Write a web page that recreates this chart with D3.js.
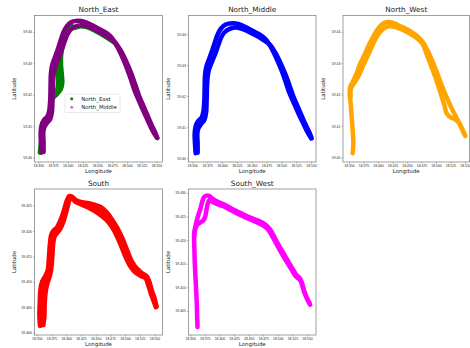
<!DOCTYPE html>
<html>
<head>
<meta charset="utf-8">
<script src="https://cdn.jsdelivr.net/npm/d3@7"></script>
<style>
  body { margin: 0; background: #fff; }
  svg { font-family: "DejaVu Sans", sans-serif; }
</style>
</head>
<body>
<div id="chart"></div>
<script>
// route tracks, [longitude, latitude]
const northEastLoop = [
  [18.3529, 59.4016], [18.3546, 59.4035], [18.3568, 59.4077], [18.3585, 59.4107],
  [18.3631, 59.4120], [18.3676, 59.4130], [18.3698, 59.4146], [18.3715, 59.4173],
  [18.3744, 59.4189], [18.3812, 59.4201], [18.3880, 59.4217], [18.3907, 59.4238],
  [18.3897, 59.4268], [18.3885, 59.4295], [18.3885, 59.4321], [18.3907, 59.4353],
  [18.3947, 59.4385], [18.3998, 59.4408], [18.4119, 59.4413], [18.4220, 59.4418],
  [18.4321, 59.4415], [18.4445, 59.4405], [18.4568, 59.4392], [18.4680, 59.4379],
  [18.4801, 59.4363], [18.4899, 59.4336], [18.4984, 59.4304], [18.5068, 59.4267],
  [18.5141, 59.4229], [18.5209, 59.4192], [18.5282, 59.4160], [18.5350, 59.4130],
  [18.5420, 59.4100], [18.5480, 59.4076], [18.5520, 59.4062]
];
const northEastFill = [
  [18.3715, 59.4173], [18.3744, 59.4189], [18.3790, 59.4203], [18.3826, 59.4220],
  [18.3836, 59.4240], [18.3830, 59.4268], [18.3830, 59.4296], [18.3845, 59.4325],
  [18.3885, 59.4358], [18.3940, 59.4390], [18.3998, 59.4408]
];
const northEastMain = [
  [18.3529, 59.4016], [18.3568, 59.4077], [18.3631, 59.4120], [18.3698, 59.4146],
  [18.3727, 59.4205], [18.3737, 59.4247], [18.3754, 59.4279], [18.3800, 59.4305],
  [18.3846, 59.4332], [18.3890, 59.4358], [18.3936, 59.4385], [18.3998, 59.4408],
  [18.4066, 59.4420]
];
const northMiddleOuter = [
  [18.3557, 59.4016], [18.3545, 59.4048], [18.3540, 59.4080], [18.3557, 59.4104],
  [18.3590, 59.4118], [18.3658, 59.4132], [18.3686, 59.4150], [18.3703, 59.4188],
  [18.3708, 59.4231], [18.3714, 59.4268], [18.3736, 59.4295], [18.3787, 59.4322],
  [18.3838, 59.4349], [18.3882, 59.4375], [18.3927, 59.4399], [18.3984, 59.4418],
  [18.4062, 59.4431], [18.4175, 59.4435], [18.4287, 59.4432], [18.4416, 59.4421],
  [18.4545, 59.4408], [18.4658, 59.4396], [18.4748, 59.4381], [18.4826, 59.4357],
  [18.4905, 59.4327], [18.4989, 59.4290], [18.5062, 59.4252], [18.5129, 59.4214],
  [18.5202, 59.4182], [18.5275, 59.4150], [18.5354, 59.4118], [18.5427, 59.4089],
  [18.5500, 59.4065]
];
const northMiddleInner = [
  [18.3590, 59.4018], [18.3590, 59.4048], [18.3585, 59.4080], [18.3602, 59.4096],
  [18.3647, 59.4110], [18.3703, 59.4123], [18.3731, 59.4145], [18.3742, 59.4188],
  [18.3748, 59.4231], [18.3759, 59.4263], [18.3781, 59.4286], [18.3838, 59.4314],
  [18.3894, 59.4340], [18.3939, 59.4365], [18.3984, 59.4388], [18.4040, 59.4405],
  [18.4119, 59.4416], [18.4220, 59.4421], [18.4321, 59.4418], [18.4445, 59.4408],
  [18.4568, 59.4396], [18.4680, 59.4383], [18.4801, 59.4367], [18.4899, 59.4340],
  [18.4984, 59.4308], [18.5068, 59.4271], [18.5141, 59.4233], [18.5209, 59.4196],
  [18.5282, 59.4164], [18.5350, 59.4134], [18.5420, 59.4104], [18.5480, 59.4080],
  [18.5512, 59.4064]
];
const northWestUpper = [
  [18.3563, 59.4013], [18.3575, 59.4044], [18.3563, 59.4087], [18.3546, 59.4129],
  [18.3529, 59.4172], [18.3511, 59.4204], [18.3523, 59.4225], [18.3557, 59.4238],
  [18.3603, 59.4255], [18.3649, 59.4276], [18.3690, 59.4297], [18.3747, 59.4318],
  [18.3805, 59.4342], [18.3862, 59.4365], [18.3931, 59.4389], [18.4006, 59.4411],
  [18.4080, 59.4425], [18.4161, 59.4431], [18.4253, 59.4429], [18.4351, 59.4421],
  [18.4466, 59.4411], [18.4580, 59.4399], [18.4678, 59.4386], [18.4770, 59.4368],
  [18.4851, 59.4342], [18.4931, 59.4310], [18.5011, 59.4273], [18.5086, 59.4236],
  [18.5155, 59.4204], [18.5230, 59.4172], [18.5299, 59.4145], [18.5368, 59.4121],
  [18.5425, 59.4100], [18.5471, 59.4082], [18.5506, 59.4068]
];
const northWestLower = [
  [18.3529, 59.4193], [18.3534, 59.4220], [18.3586, 59.4236], [18.3644, 59.4252],
  [18.3701, 59.4273], [18.3747, 59.4294], [18.3816, 59.4321], [18.3874, 59.4344],
  [18.3948, 59.4374], [18.4023, 59.4397], [18.4103, 59.4412], [18.4184, 59.4418],
  [18.4276, 59.4416], [18.4379, 59.4410], [18.4494, 59.4400], [18.4598, 59.4389],
  [18.4690, 59.4377], [18.4770, 59.4361], [18.4831, 59.4333], [18.4897, 59.4301],
  [18.4966, 59.4267], [18.5035, 59.4230], [18.5090, 59.4198], [18.5144, 59.4167],
  [18.5184, 59.4140], [18.5253, 59.4127], [18.5328, 59.4121], [18.5397, 59.4110],
  [18.5448, 59.4092], [18.5489, 59.4074]
];
const southUpper = [
  [18.3556, 59.4013], [18.3545, 59.4032], [18.3551, 59.4058], [18.3562, 59.4084],
  [18.3590, 59.4100], [18.3647, 59.4112], [18.3687, 59.4123], [18.3704, 59.4143],
  [18.3716, 59.4163], [18.3727, 59.4179], [18.3744, 59.4192], [18.3784, 59.4201],
  [18.3841, 59.4207], [18.3886, 59.4217], [18.3932, 59.4230], [18.3972, 59.4245],
  [18.4011, 59.4260], [18.4051, 59.4269], [18.4097, 59.4268], [18.4171, 59.4261],
  [18.4267, 59.4257], [18.4381, 59.4255], [18.4483, 59.4252], [18.4580, 59.4248],
  [18.4682, 59.4238], [18.4785, 59.4222], [18.4876, 59.4205], [18.4955, 59.4186],
  [18.5035, 59.4163], [18.5109, 59.4142], [18.5194, 59.4127], [18.5291, 59.4117],
  [18.5376, 59.4110], [18.5422, 59.4097], [18.5461, 59.4081], [18.5501, 59.4068],
  [18.5536, 59.4051]
];
const southMiddle = [
  [18.3585, 59.4014], [18.3588, 59.4032], [18.3593, 59.4058], [18.3607, 59.4083],
  [18.3635, 59.4099], [18.3681, 59.4111], [18.3715, 59.4123], [18.3732, 59.4143],
  [18.3744, 59.4163], [18.3755, 59.4179], [18.3775, 59.4191], [18.3818, 59.4199],
  [18.3869, 59.4206], [18.3914, 59.4216], [18.3957, 59.4230], [18.3997, 59.4246],
  [18.4034, 59.4261], [18.4074, 59.4267], [18.4097, 59.4266], [18.4162, 59.4260],
  [18.4258, 59.4255], [18.4372, 59.4251], [18.4480, 59.4246], [18.4580, 59.4240],
  [18.4682, 59.4230], [18.4779, 59.4216], [18.4865, 59.4199], [18.4944, 59.4179],
  [18.5024, 59.4156], [18.5100, 59.4136], [18.5185, 59.4123], [18.5276, 59.4115],
  [18.5362, 59.4109], [18.5408, 59.4096], [18.5447, 59.4080], [18.5490, 59.4066],
  [18.5530, 59.4051]
];
const southLower = [
  [18.3613, 59.4015], [18.3630, 59.4032], [18.3636, 59.4058], [18.3653, 59.4081],
  [18.3681, 59.4097], [18.3716, 59.4109], [18.3744, 59.4123], [18.3761, 59.4143],
  [18.3772, 59.4163], [18.3784, 59.4179], [18.3807, 59.4190], [18.3852, 59.4197],
  [18.3898, 59.4204], [18.3943, 59.4215], [18.3983, 59.4230], [18.4023, 59.4247],
  [18.4057, 59.4261], [18.4097, 59.4265], [18.4154, 59.4258], [18.4250, 59.4253],
  [18.4364, 59.4247], [18.4478, 59.4240], [18.4580, 59.4232], [18.4682, 59.4222],
  [18.4773, 59.4209], [18.4853, 59.4192], [18.4933, 59.4171], [18.5012, 59.4148],
  [18.5092, 59.4130], [18.5177, 59.4118], [18.5262, 59.4112], [18.5348, 59.4107],
  [18.5393, 59.4094], [18.5433, 59.4079], [18.5479, 59.4064], [18.5524, 59.4050]
];
const southWestMain = [
  [18.3625, 59.4016], [18.3619, 59.4037], [18.3613, 59.4066], [18.3602, 59.4094],
  [18.3590, 59.4122], [18.3579, 59.4150], [18.3573, 59.4175], [18.3568, 59.4196],
  [18.3568, 59.4214], [18.3585, 59.4227], [18.3630, 59.4249], [18.3676, 59.4267],
  [18.3716, 59.4285], [18.3744, 59.4292], [18.3784, 59.4294], [18.3829, 59.4293],
  [18.3886, 59.4287], [18.3972, 59.4281], [18.4085, 59.4275], [18.4228, 59.4265],
  [18.4381, 59.4256], [18.4540, 59.4247], [18.4683, 59.4240], [18.4796, 59.4232],
  [18.4870, 59.4222], [18.4927, 59.4210], [18.4984, 59.4196], [18.5064, 59.4179],
  [18.5149, 59.4161], [18.5234, 59.4143], [18.5314, 59.4127], [18.5377, 59.4119],
  [18.5417, 59.4108], [18.5451, 59.4092], [18.5496, 59.4078], [18.5542, 59.4067]
];
const southWestLoop = [
  [18.3568, 59.4207], [18.3585, 59.4222], [18.3619, 59.4232], [18.3670, 59.4237],
  [18.3721, 59.4241], [18.3755, 59.4249], [18.3778, 59.4263], [18.3800, 59.4277],
  [18.3829, 59.4285], [18.3869, 59.4282], [18.3943, 59.4277], [18.4057, 59.4272],
  [18.4199, 59.4263], [18.4358, 59.4253], [18.4518, 59.4244], [18.4665, 59.4236],
  [18.4779, 59.4228], [18.4853, 59.4219], [18.4910, 59.4207], [18.4972, 59.4193],
  [18.5052, 59.4175], [18.5137, 59.4157], [18.5222, 59.4140], [18.5308, 59.4123],
  [18.5382, 59.4115], [18.5422, 59.4102], [18.5462, 59.4087], [18.5507, 59.4074],
  [18.5553, 59.4063]
];

const xTicks = [18.350, 18.375, 18.400, 18.425, 18.450, 18.475, 18.500, 18.525, 18.550];
const yTicksNorth = [59.40, 59.41, 59.42, 59.43, 59.44];
const yTicksSouth = [59.400, 59.405, 59.410, 59.415, 59.420, 59.425];
const yTicksSouthWest = [59.405, 59.410, 59.415, 59.420, 59.425, 59.430];

const width = 470, height = 348;
const colLeft = [34.5, 188.5, 343];
const colRight = [162.5, 316, 469.5];
const rowTop = [15.5, 189];
const rowBottom = [162, 335];

const panels = [
  { title: 'North_East', col: 0, row: 0,
    xDomain: [18.3436, 18.5604], yDomain: [59.3986, 59.4452], yTicks: yTicksNorth, yFmt: '.2f',
    series: [
      { name: 'North_East', color: '#008000', tracks: [northEastMain, northEastFill, northEastLoop] },
      { name: 'North_Middle', color: '#800080', tracks: [northMiddleOuter, northMiddleInner] }
    ], legend: true },
  { title: 'North_Middle', col: 1, row: 0,
    xDomain: [18.3436, 18.5584], yDomain: [59.3988, 59.4460], yTicks: yTicksNorth, yFmt: '.2f',
    series: [{ name: 'North_Middle', color: '#0000ff', tracks: [northMiddleOuter, northMiddleInner] }] },
  { title: 'North_West', col: 2, row: 0,
    xDomain: [18.3397, 18.5578], yDomain: [59.3985, 59.4452], yTicks: yTicksNorth, yFmt: '.2f',
    series: [{ name: 'North_West', color: '#ffa500', tracks: [northWestUpper, northWestLower] }] },
  { title: 'South', col: 0, row: 1,
    xDomain: [18.3462, 18.5637], yDomain: [59.3995, 59.4283], yTicks: yTicksSouth, yFmt: '.3f',
    series: [{ name: 'South', color: '#ff0000', tracks: [southUpper, southMiddle, southLower] }] },
  { title: 'South_West', col: 1, row: 1,
    xDomain: [18.3471, 18.5654], yDomain: [59.3999, 59.4308], yTicks: yTicksSouthWest, yFmt: '.3f',
    series: [{ name: 'South_West', color: '#ff00ff', tracks: [southWestMain, southWestLoop] }] }
];

const svg = d3.select('#chart').append('svg')
  .attr('width', width)
  .attr('height', height);

panels.forEach(p => {
  const x0 = colLeft[p.col], x1 = colRight[p.col];
  const y0 = rowTop[p.row], y1 = rowBottom[p.row];

  const x = d3.scaleLinear().domain(p.xDomain).range([x0, x1]);
  const y = d3.scaleLinear().domain(p.yDomain).range([y1, y0]);

  const g = svg.append('g');

  const line = d3.line()
    .x(d => x(d[0]))
    .y(d => y(d[1]))
    .curve(d3.curveCatmullRom);

  // tracks
  p.series.forEach(s => {
    g.selectAll(null)
      .data(s.tracks)
      .enter()
      .append('path')
      .attr('d', line)
      .attr('fill', 'none')
      .attr('stroke', s.color)
      .attr('stroke-width', 4.5)
      .attr('stroke-linecap', 'round')
      .attr('stroke-linejoin', 'round');
  });

  // axes
  const xAxis = g.append('g')
    .attr('transform', `translate(0,${y1})`)
    .call(d3.axisBottom(x).tickValues(xTicks).tickFormat(d3.format('.3f')).tickSize(1.5).tickPadding(0.8));
  const yAxis = g.append('g')
    .attr('transform', `translate(${x0},0)`)
    .call(d3.axisLeft(y).tickValues(p.yTicks).tickFormat(d3.format(p.yFmt)).tickSize(1.5).tickPadding(1.2));

  [xAxis, yAxis].forEach(a => {
    a.select('.domain').remove();
    a.selectAll('line').attr('stroke', '#666').attr('stroke-width', 0.5);
    a.selectAll('text').attr('fill', '#222').style('font-size', '3.4px');
  });

  // frame
  g.append('rect')
    .attr('x', x0).attr('y', y0)
    .attr('width', x1 - x0).attr('height', y1 - y0)
    .attr('fill', 'none')
    .attr('stroke', '#777')
    .attr('stroke-width', 0.7);

  // title and axis labels
  g.append('text')
    .attr('x', (x0 + x1) / 2).attr('y', y0 - 3.5)
    .attr('text-anchor', 'middle')
    .style('font-size', '7.3px')
    .attr('fill', '#222')
    .text(p.title);

  g.append('text')
    .attr('x', (x0 + x1) / 2).attr('y', y1 + 11)
    .attr('text-anchor', 'middle')
    .style('font-size', '5.4px')
    .attr('fill', '#222')
    .text('Longitude');

  g.append('text')
    .attr('transform', `translate(${x0 - 18.5},${(y0 + y1) / 2}) rotate(-90)`)
    .attr('text-anchor', 'middle')
    .style('font-size', '5.4px')
    .attr('fill', '#222')
    .text('Latitude');

  if (p.legend) {
    const lx = x0 + 30.5, ly = y0 + 78.5;
    const lg = g.append('g').attr('transform', `translate(${lx},${ly})`);
    lg.append('rect')
      .attr('width', 55).attr('height', 18.5)
      .attr('rx', 1)
      .attr('fill', 'rgba(255,255,255,0.8)')
      .attr('stroke', '#d0d0d0')
      .attr('stroke-width', 0.5);
    const legendColors = ['#008000', '#cc77cc'];
    p.series.forEach((s, i) => {
      lg.append('circle')
        .attr('cx', 6.7).attr('cy', 4.8 + i * 8.4)
        .attr('r', 1.5)
        .attr('fill', legendColors[i]);
      lg.append('text')
        .attr('x', 16.2).attr('y', 6.7 + i * 8.4)
        .style('font-size', '5.4px')
        .attr('fill', '#222')
        .text(s.name);
    });
  }
});
</script>
</body>
</html>
